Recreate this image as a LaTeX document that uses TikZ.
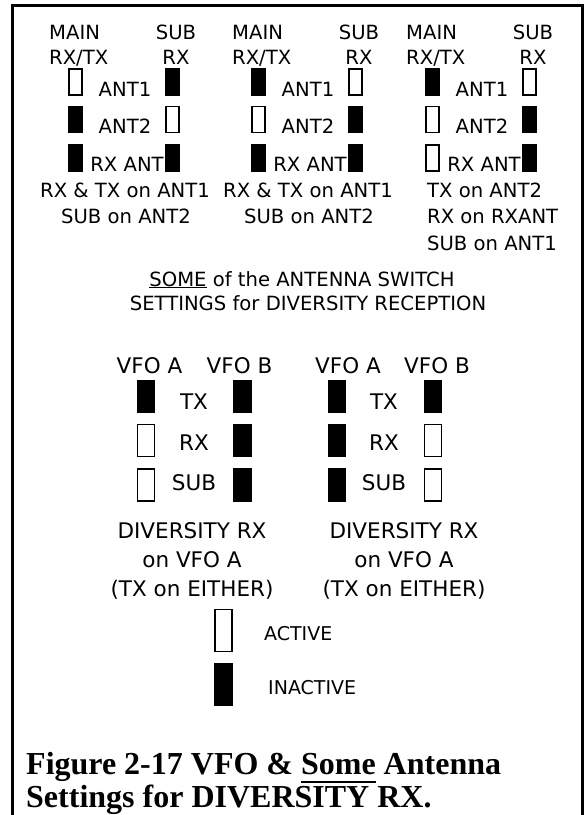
\documentclass[tikz,border=0pt]{standalone}
\usepackage{fontspec}
\setmainfont{Liberation Serif}
\newfontfamily\dvs{DejaVu Sans}
\newcommand{\ulbox}[3]{\setbox0\hbox{#3}\rlap{\rule[-#1]{\wd0}{#2}}\box0\relax}
\begin{document}
\begin{tikzpicture}[x=1pt,y=-1pt,
 tt/.style={font=\dvs\fontsize{19.6}{22}\selectfont, inner sep=0, anchor=base},
 ttw/.style={tt, anchor=base west},
 bt/.style={font=\dvs\fontsize{21.5}{24}\selectfont, inner sep=0, anchor=base},
 lt/.style={font=\dvs\fontsize{19}{22}\selectfont, inner sep=0, anchor=base west},
 sbox/.style={draw, line width=1.2pt, inner sep=0, minimum width=13pt, minimum height=26pt},
 bbox/.style={draw, line width=1.2pt, inner sep=0, minimum width=17pt, minimum height=32pt},
 gbox/.style={draw, line width=1.2pt, inner sep=0, minimum width=17pt, minimum height=42pt},
 captext/.style={font=\bfseries\fontsize{32}{35}\selectfont, inner sep=0, anchor=base west}]
\useasboundingbox (0,0) rectangle (586,815);
% frame
\draw[line width=3pt] (12.5,830) -- (12.5,5.5) -- (582,5.5) -- (582,830);
% top groups
\foreach \g/\dx/\ma/\mb/\mc/\sa/\sb/\sc in {1/0/white/black/black/black/white/black, 2/183/black/white/black/white/black/black, 3/357/black/white/white/white/black/black}{
 \node[ttw] (main\g) at (49+\dx,39) {MAIN};
 \node[ttw] (rxtx\g) at (49+\dx,64) {RX/TX};
 \node[tt] (sub\g) at (176+\dx,39) {SUB};
 \node[tt] (subrx\g) at (176+\dx,64) {RX};
 \node[sbox,fill=\ma] (ma\g) at (75.5+\dx,82) {};
 \node[sbox,fill=\mb] (mb\g) at (75.5+\dx,119.5) {};
 \node[sbox,fill=\mc] (mc\g) at (75.5+\dx,158) {};
 \node[sbox,fill=\sa] (sa\g) at (172.5+\dx,82) {};
 \node[sbox,fill=\sb] (sb\g) at (172.5+\dx,119.5) {};
 \node[sbox,fill=\sc] (sc\g) at (172.5+\dx,158) {};
 \node[tt] (antone\g) at (125+\dx,96) {ANT1};
 \node[tt] (anttwo\g) at (125+\dx,133.5) {ANT2};
 \node[tt] (rxant\g) at (127+\dx,171) {RX ANT};
}
\foreach \g/\dx in {1/0, 2/183}{
 \node[tt] (lineone\g) at (125+\dx,197) {RX \& TX on ANT1};
 \node[tt] (linetwo\g) at (126+\dx,223) {SUB on ANT2};
}
\node[ttw] (lineone3) at (427,197) {TX on ANT2};
\node[ttw] (linetwo3) at (427,223.5) {RX on RXANT};
\node[ttw] (linethree3) at (427,250) {SUB on ANT1};
% middle title
\node[tt] (titleone) at (302,286) {\ulbox{1.8pt}{1.2pt}{SOME} of the ANTENNA SWITCH};
\node[tt] (titletwo) at (308,310) {SETTINGS for DIVERSITY RECEPTION};
% VFO groups
\foreach \g/\ax/\bx/\tx/\cx/\va/\vb/\ta/\ra/\sa/\tb/\rb/\sb in {1/146/242.5/194/192/149.5/239.5/black/white/white/black/black/black, 2/337/433/384/404/348/437/black/black/black/black/white/white}{
 \node[bt] (vfoa\g) at (\va,373) {VFO A};
 \node[bt] (vfob\g) at (\vb,373) {VFO B};
 \node[bbox,fill=\ta] (ta\g) at (\ax,396.5) {};
 \node[bbox,fill=\ra] (ra\g) at (\ax,440.5) {};
 \node[bbox,fill=\sa] (sua\g) at (\ax,485) {};
 \node[bbox,fill=\tb] (tb\g) at (\bx,396.5) {};
 \node[bbox,fill=\rb] (rb\g) at (\bx,440.5) {};
 \node[bbox,fill=\sb] (sub\g) at (\bx,485) {};
 \node[bt] (txl\g) at (\tx,409) {TX};
 \node[bt] (rxl\g) at (\tx,450) {RX};
 \node[bt] (subl\g) at (\tx,490) {SUB};
 \node[bt] (divone\g) at (\cx,538) {DIVERSITY RX};
 \node[bt] (divtwo\g) at (\cx,567) {on VFO A};
 \node[bt] (divthree\g) at (\cx,596) {(TX on EITHER)};
}
% legend
\node[gbox,fill=white] (legact) at (223.5,630.5) {};
\node[gbox,fill=black] (leginact) at (223.5,684.5) {};
\node[lt] (acttext) at (264,640) {ACTIVE};
\node[lt] (inacttext) at (268,694) {INACTIVE};
% caption
\node[captext] (capone) at (26,774) {Figure 2-17 VFO \& \ulbox{9.2pt}{2.5pt}{Some} Antenna};
\node[captext] (captwo) at (26,807.5) {Settings for DIVERSITY RX.};
\end{tikzpicture}
\end{document}
